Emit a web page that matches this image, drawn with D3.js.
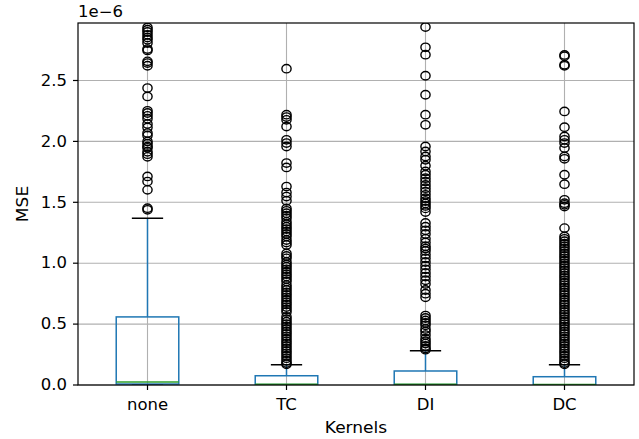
<!DOCTYPE html>
<html lang="en">
<head>
  <meta charset="UTF-8">
  <title>MSE by kernel</title>
  <script src="https://d3js.org/d3.v7.min.js"></script>
  <style>
    body { margin: 0; background: white; }
    text { font-family: "DejaVu Sans", sans-serif; fill: black; }
  </style>
</head>
<body>
<div id="chart"></div>
<script>
    // values are in units of 1e-6
    const kernels = ["none", "TC", "DI", "DC"];
    const q1 = [0.008, 0.003, 0.003, 0.002];
    const medians = [0.025, 0.006, 0.006, 0.005];
    const q3 = [0.559, 0.076, 0.115, 0.068];
    const whiskerLow = [0, 0, 0, 0];
    const whiskerHigh = [1.37, 0.167, 0.282, 0.167];

    const fliersNone = [2.936, 2.917, 2.898, 2.875, 2.853, 2.835, 2.808, 2.758, 2.747, 2.657, 2.643, 2.621,
      2.438, 2.369, 2.251, 2.233, 2.210, 2.186, 2.142, 2.114, 2.068, 2.049, 1.999, 1.980, 1.958, 1.947,
      1.915, 1.895, 1.873, 1.712, 1.670, 1.602, 1.452, 1.438];
    const fliersTC = [2.597, 2.219, 2.200, 2.177, 2.122, 2.013, 1.986, 1.958, 1.822, 1.786, 1.629, 1.580,
      1.547, 1.512, 1.45, 1.43, 1.41, 1.39, 1.37, 1.34, 1.32, 1.30, 1.28, 1.26, 1.24, 1.22, 1.19, 1.17,
      1.15, 1.08, 1.06, 1.04, 1.01, 0.99, 0.97, 0.95, 0.93, 0.91, 0.89, 0.87, 0.85, 0.82, 0.80, 0.78,
      0.76, 0.74, 0.72, 0.70, 0.68, 0.66, 0.64, 0.62, 0.60, 0.56, 0.54, 0.52, 0.50, 0.48, 0.46, 0.44,
      0.42, 0.40, 0.38, 0.36, 0.34, 0.32, 0.30, 0.28, 0.26, 0.24, 0.22, 0.20, 0.18, 0.17];
    const fliersDI = [2.939, 2.772, 2.712, 2.539, 2.383, 2.219, 2.136, 1.958, 1.917, 1.876, 1.849, 1.80,
      1.753, 1.726, 1.698, 1.670, 1.643, 1.616, 1.588, 1.561, 1.534, 1.51, 1.49, 1.47, 1.45, 1.42, 1.33,
      1.30, 1.27, 1.24, 1.20, 1.17, 1.14, 1.12, 1.10, 1.07, 1.04, 1.01, 0.98, 0.95, 0.92, 0.89, 0.86,
      0.83, 0.78, 0.75, 0.72, 0.57, 0.55, 0.53, 0.51, 0.49, 0.46, 0.44, 0.41, 0.38, 0.36, 0.34, 0.32,
      0.30, 0.29];
    const fliersDC = [2.71, 2.70, 2.63, 2.62, 2.246, 2.117, 2.040, 2.013, 1.986, 1.945, 1.876, 1.857,
      1.726, 1.649, 1.520, 1.493, 1.479, 1.465, 1.288, 1.22, 1.20, 1.18, 1.16, 1.14, 1.12, 1.10, 1.08,
      1.06, 1.04, 1.02, 1.00, 0.98, 0.96, 0.94, 0.92, 0.90, 0.88, 0.86, 0.84, 0.82, 0.80, 0.78, 0.76,
      0.74, 0.72, 0.70, 0.68, 0.66, 0.64, 0.62, 0.60, 0.58, 0.56, 0.54, 0.52, 0.50, 0.48, 0.46, 0.44,
      0.42, 0.40, 0.38, 0.36, 0.34, 0.32, 0.30, 0.28, 0.26, 0.24, 0.22, 0.20, 0.18, 0.17];
    const fliers = [fliersNone, fliersTC, fliersDI, fliersDC];

    const yTicks = [0, 0.5, 1.0, 1.5, 2.0, 2.5];

    const W = 639, H = 439;
    const margin = { top: 23, right: 5, bottom: 54, left: 78 };
    const width = W - margin.left - margin.right;
    const height = H - margin.top - margin.bottom;
    const sx = 1.1; // text looks a bit wide in the original

    const svg = d3.select("#chart").append("svg")
      .attr("width", W).attr("height", H);
    const g = svg.append("g")
      .attr("transform", "translate(" + margin.left + "," + margin.top + ")");

    const x = d3.scaleLinear().domain([0.5, 4.5]).range([0, width]);
    const y = d3.scaleLinear().domain([0, 2.972]).range([height, 0]);
    const boxW = x(1.45) - x(1);

    svg.append("defs").append("clipPath").attr("id", "clip")
      .append("rect").attr("width", width).attr("height", height);

    // grid
    g.selectAll(".ygrid").data(yTicks).enter().append("line")
      .attr("x1", 0).attr("x2", width)
      .attr("y1", d => y(d)).attr("y2", d => y(d))
      .attr("stroke", "#b0b0b0").attr("stroke-width", 1.1);
    g.selectAll(".xgrid").data(kernels).enter().append("line")
      .attr("x1", (d, i) => x(i + 1)).attr("x2", (d, i) => x(i + 1))
      .attr("y1", 0).attr("y2", height)
      .attr("stroke", "#b0b0b0").attr("stroke-width", 1.1);

    const plot = g.append("g").attr("clip-path", "url(#clip)");

    kernels.forEach((k, i) => {
      const cx = x(i + 1);
      // whiskers
      plot.append("line").attr("x1", cx).attr("x2", cx)
        .attr("y1", y(q3[i])).attr("y2", y(whiskerHigh[i]))
        .attr("stroke", "#1f77b4").attr("stroke-width", 1.5);
      plot.append("line").attr("x1", cx).attr("x2", cx)
        .attr("y1", y(q1[i])).attr("y2", y(whiskerLow[i]))
        .attr("stroke", "#1f77b4").attr("stroke-width", 1.5);
      // caps
      [whiskerLow[i], whiskerHigh[i]].forEach(v => {
        plot.append("line").attr("x1", cx - boxW / 4).attr("x2", cx + boxW / 4)
          .attr("y1", y(v)).attr("y2", y(v))
          .attr("stroke", "black").attr("stroke-width", 1.5);
      });
      // box
      plot.append("rect")
        .attr("x", cx - boxW / 2).attr("width", boxW)
        .attr("y", y(q3[i])).attr("height", y(q1[i]) - y(q3[i]))
        .attr("fill", "none").attr("stroke", "#1f77b4").attr("stroke-width", 1.5);
      // median
      plot.append("line").attr("x1", cx - boxW / 2).attr("x2", cx + boxW / 2)
        .attr("y1", y(medians[i])).attr("y2", y(medians[i]))
        .attr("stroke", "#2ca02c").attr("stroke-width", 1.5);
      // fliers
      plot.selectAll(".flier-" + i).data(fliers[i]).enter().append("ellipse")
        .attr("cx", cx).attr("cy", d => y(d))
        .attr("rx", 4.6).attr("ry", 4.2)
        .attr("fill", "none").attr("stroke", "black").attr("stroke-width", 1.4);
    });

    // spines
    g.append("rect").attr("width", width).attr("height", height)
      .attr("fill", "none").attr("stroke", "black").attr("stroke-width", 1.2);

    // y ticks
    g.selectAll(".ytick").data(yTicks).enter().append("line")
      .attr("x1", -5).attr("x2", 0)
      .attr("y1", d => y(d)).attr("y2", d => y(d))
      .attr("stroke", "black").attr("stroke-width", 1.2);
    g.selectAll(".ylab").data(yTicks).enter().append("text")
      .attr("transform", d => "translate(-11," + y(d) + ") scale(" + sx + ",1)")
      .attr("text-anchor", "end").attr("dominant-baseline", "central")
      .attr("font-size", "15px")
      .text(d => d3.format(".1f")(d));

    // x ticks
    g.selectAll(".xtick").data(kernels).enter().append("line")
      .attr("x1", (d, i) => x(i + 1)).attr("x2", (d, i) => x(i + 1))
      .attr("y1", height).attr("y2", height + 5)
      .attr("stroke", "black").attr("stroke-width", 1.2);
    g.selectAll(".xlab").data(kernels).enter().append("text")
      .attr("transform", (d, i) => "translate(" + x(i + 1) + "," + (height + 25) + ") scale(" + sx + ",1)")
      .attr("text-anchor", "middle")
      .attr("font-size", "15px")
      .text(d => d);

    // axis labels
    svg.append("text")
      .attr("transform", "translate(" + (margin.left + width / 2) + ",433) scale(" + sx + ",1)")
      .attr("text-anchor", "middle").attr("font-size", "15.5px")
      .text("Kernels");
    svg.append("text")
      .attr("transform", "translate(28," + (margin.top + height / 2) + ") rotate(-90) scale(" + sx + ",1)")
      .attr("text-anchor", "middle").attr("font-size", "15.5px")
      .text("MSE");

    // offset text
    svg.append("text")
      .attr("transform", "translate(" + margin.left + ",17) scale(" + sx + ",1)")
      .attr("font-size", "15px")
      .text("1e\u22126");
</script>
</body>
</html>
